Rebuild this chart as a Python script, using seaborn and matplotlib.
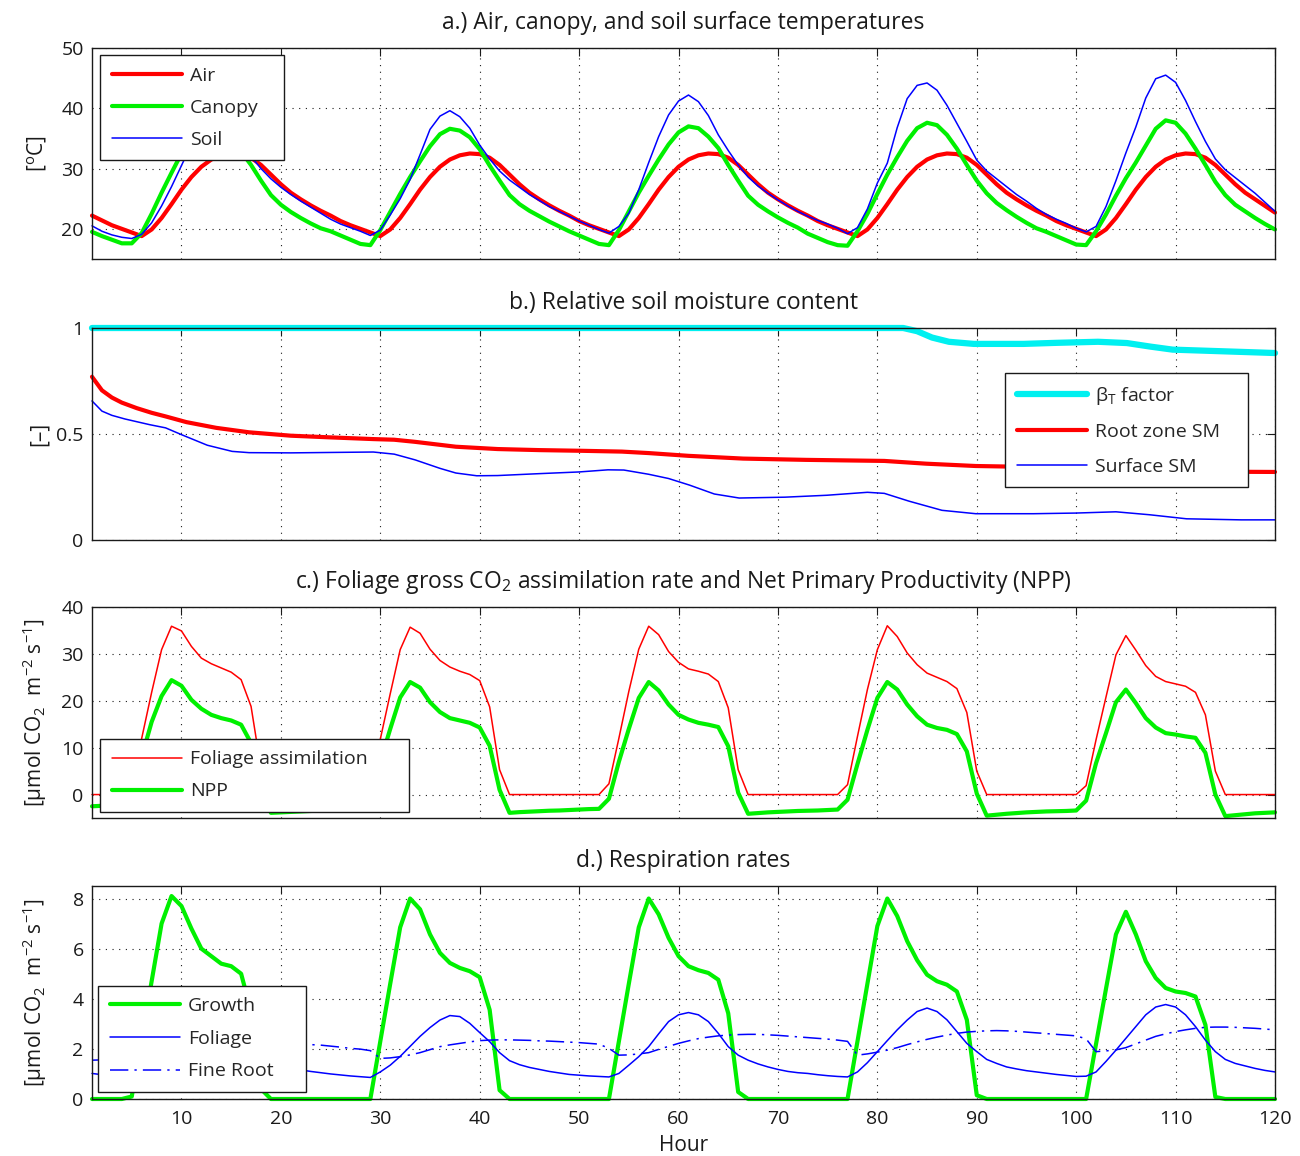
import matplotlib
matplotlib.use("Agg")
import matplotlib.pyplot as plt
import seaborn as sns
import pandas as pd

# ---------------- data ----------------
hours = list(range(1, 121))

air_temp = [
    22.2, 21.4, 20.6, 20.0, 19.4, 18.8, 19.9, 21.8, 24.1, 26.5, 28.6, 30.3, 31.5, 32.2, 32.5, 32.4, 31.8, 30.6, 29.0, 27.4, 26.0, 24.9, 23.9, 23.0,
    22.2, 21.3, 20.6, 20.0, 19.4, 18.8, 19.9, 21.8, 24.1, 26.5, 28.6, 30.3, 31.5, 32.2, 32.5, 32.4, 31.8, 30.6, 29.0, 27.4, 26.0, 24.9, 23.9, 23.0,
    22.2, 21.3, 20.6, 20.0, 19.4, 18.8, 19.9, 21.8, 24.1, 26.5, 28.6, 30.3, 31.5, 32.2, 32.5, 32.4, 31.8, 30.6, 29.0, 27.4, 26.0, 24.9, 23.9, 23.0,
    22.2, 21.3, 20.6, 20.0, 19.4, 18.8, 19.9, 21.8, 24.1, 26.5, 28.6, 30.3, 31.5, 32.2, 32.5, 32.4, 31.8, 30.6, 29.0, 27.4, 26.0, 24.9, 23.9, 23.0,
    22.2, 21.3, 20.6, 20.0, 19.4, 18.8, 19.9, 21.8, 24.1, 26.5, 28.6, 30.3, 31.5, 32.2, 32.5, 32.4, 31.8, 30.6, 29.0, 27.4, 26.0, 24.9, 23.8, 22.7,
]
canopy_temp = [
    19.5, 18.8, 18.2, 17.6, 17.6, 19.3, 22.5, 26.0, 29.3, 32.5, 34.8, 36.2, 36.6, 36.0, 34.8, 32.8, 30.6, 28.0, 25.6, 24.0, 22.8, 21.8, 20.9, 20.1,
    19.6, 18.9, 18.2, 17.5, 17.3, 19.8, 22.8, 25.8, 28.6, 31.2, 33.7, 35.7, 36.6, 36.3, 35.2, 33.2, 30.5, 28.0, 25.6, 24.1, 23.0, 22.1, 21.2, 20.4,
    19.6, 18.9, 18.2, 17.5, 17.3, 19.8, 22.9, 26.0, 28.8, 31.5, 34.0, 36.0, 37.0, 36.7, 35.3, 33.4, 30.6, 28.0, 25.5, 24.0, 22.9, 21.9, 21.0, 20.2,
    19.2, 18.5, 17.8, 17.3, 17.2, 19.6, 22.5, 25.8, 29.0, 31.9, 34.6, 36.7, 37.6, 37.2, 35.6, 33.3, 30.6, 28.0, 25.9, 24.3, 23.1, 22.0, 21.0, 20.1,
    19.5, 18.8, 18.1, 17.4, 17.3, 19.6, 22.4, 25.5, 28.4, 31.0, 33.8, 36.6, 38.0, 37.6, 35.8, 33.3, 30.6, 27.8, 25.6, 24.0, 22.9, 21.8, 20.8, 19.9,
]
soil_temp = [
    20.5, 19.6, 19.0, 18.6, 18.4, 19.1, 21.0, 23.8, 27.0, 30.5, 34.0, 36.5, 37.3, 36.6, 35.0, 33.6, 32.0, 30.0, 28.3, 26.9, 25.7, 24.6, 23.6, 22.6,
    21.6, 20.8, 20.2, 19.6, 18.9, 19.8, 22.3, 25.0, 28.2, 32.3, 36.5, 38.7, 39.6, 38.6, 36.7, 33.9, 31.6, 29.6, 28.1, 26.9, 25.7, 24.7, 23.7, 22.9,
    22.1, 21.3, 20.6, 19.9, 19.3, 20.4, 22.6, 26.5, 31.0, 35.3, 38.9, 41.2, 42.2, 41.1, 38.8, 35.6, 33.0, 30.6, 28.6, 27.1, 25.9, 24.8, 23.8, 22.9,
    22.1, 21.4, 20.8, 20.1, 19.2, 20.2, 23.3, 27.6, 30.9, 36.8, 41.6, 43.8, 44.2, 43.0, 40.5, 37.5, 34.5, 31.4, 29.6, 28.3, 27.0, 25.7, 24.6, 23.4,
    22.4, 21.6, 20.9, 20.1, 19.5, 20.4, 23.7, 28.0, 32.6, 36.9, 41.7, 44.9, 45.5, 44.3, 41.3, 37.8, 34.5, 31.6, 29.8, 28.5, 27.2, 25.9, 24.4, 22.9,
]

beta_hours = [1, 82.6, 84, 85.5, 87.2, 89.7, 94.7, 98, 102.2, 105.1, 107.5, 109.7, 115.5, 120]
beta_t = [1.0, 1.0, 0.985, 0.955, 0.935, 0.925, 0.925, 0.930, 0.935, 0.929, 0.912, 0.898, 0.889, 0.882]

root_hours = [1, 2, 3, 4, 5.5, 7, 8.4, 10.5, 13.5, 16.8, 21, 25, 29.3, 31.4, 33.5, 37.6, 41.8, 46, 50,
              54.3, 57, 61, 66.5, 72.8, 80.7, 84.9, 89.9, 95, 100, 104, 110, 115, 120]
root_sm = [0.770, 0.706, 0.672, 0.648, 0.622, 0.600, 0.583, 0.556, 0.529, 0.508, 0.492, 0.484, 0.476, 0.473,
           0.463, 0.440, 0.429, 0.424, 0.421, 0.417, 0.410, 0.397, 0.384, 0.378, 0.373, 0.360, 0.349, 0.345,
           0.343, 0.340, 0.327, 0.322, 0.321]

surf_hours = [1, 2, 3, 4.3, 6.8, 8.4, 10.1, 12.6, 15.1, 16.8, 21, 25.1, 29.3, 31.4, 33.5, 36, 37.6, 39.7, 41.8,
              46, 50, 52.9, 54.5, 57, 59, 61.1, 63.6, 66.1, 70.7, 74.9, 79, 80.7, 83.2, 86.5, 89.9, 95.7,
              99.9, 104, 107.4, 111.1, 116.6, 120]
surf_sm = [0.656, 0.608, 0.588, 0.571, 0.544, 0.529, 0.495, 0.447, 0.418, 0.412, 0.411, 0.413, 0.415, 0.405,
           0.378, 0.338, 0.316, 0.303, 0.304, 0.313, 0.321, 0.331, 0.330, 0.310, 0.290, 0.259, 0.217, 0.198,
           0.202, 0.211, 0.225, 0.220, 0.183, 0.140, 0.124, 0.124, 0.127, 0.133, 0.119, 0.100, 0.095, 0.095]

assimilation = [
    0, 0, 0, 0, 2.3, 12.0, 21.8, 30.9, 35.9, 34.9, 31.6, 29.1, 27.9, 27.0, 26.1, 24.5, 18.8, 5.5, 0, 0, 0, 0, 0, 0,
    0, 0, 0, 0, 2.3, 11.8, 21.5, 30.9, 35.7, 34.4, 31.0, 28.6, 27.2, 26.3, 25.6, 24.3, 18.7, 5.3, 0, 0, 0, 0, 0, 0,
    0, 0, 0, 0, 2.3, 12.0, 22.0, 31.0, 35.9, 34.1, 30.5, 28.2, 26.8, 26.3, 25.7, 24.1, 18.5, 5.3, 0, 0, 0, 0, 0, 0,
    0, 0, 0, 0, 2.1, 12.4, 22.4, 30.9, 36.0, 33.7, 30.2, 27.7, 25.9, 25.0, 24.1, 22.6, 17.5, 5.0, 0, 0, 0, 0, 0, 0,
    0, 0, 0, 0, 1.9, 11.7, 20.8, 29.8, 33.9, 30.8, 27.5, 25.2, 24.1, 23.6, 23.1, 21.8, 17.0, 5.0, 0, 0, 0, 0, 0, 0,
]
npp = [
    -2.5, -2.4, -2.3, -2.2, -0.6, 8.0, 15.5, 21.0, 24.4, 23.2, 20.2, 18.3, 17.0, 16.3, 15.8, 14.9, 11.0, 1.2, -3.9, -3.8, -3.7, -3.6, -3.5, -3.4,
    -3.3, -3.2, -3.1, -3.05, -0.9, 7.0, 14.0, 20.7, 24.0, 22.8, 19.7, 17.6, 16.3, 15.8, 15.3, 14.3, 10.4, 1.0, -3.9, -3.75, -3.65, -3.55, -3.45, -3.4,
    -3.3, -3.2, -3.1, -3.05, -0.9, 7.0, 14.0, 20.6, 24.0, 22.2, 19.2, 17.0, 16.0, 15.3, 14.9, 14.4, 10.3, 0.4, -4.1, -3.95, -3.8, -3.7, -3.6, -3.5,
    -3.45, -3.4, -3.3, -3.2, -1.1, 6.5, 13.8, 20.6, 24.0, 22.4, 19.2, 16.7, 14.9, 14.2, 13.8, 12.9, 9.2, 0.2, -4.5, -4.3, -4.1, -3.95, -3.8, -3.7,
    -3.6, -3.55, -3.5, -3.4, -1.3, 6.7, 13.1, 19.7, 22.4, 19.5, 16.3, 14.3, 13.1, 12.8, 12.4, 12.1, 8.9, 0.0, -4.6, -4.4, -4.2, -4.0, -3.9, -3.8,
]

growth_resp = [
    0, 0, 0, 0, 0.1, 2.4, 4.7, 7.0, 8.1, 7.7, 6.8, 6.0, 5.7, 5.4, 5.3, 5.0, 3.5, 0.4, 0, 0, 0, 0, 0, 0,
    0, 0, 0, 0, 0, 2.3, 4.6, 6.85, 8.0, 7.57, 6.57, 5.83, 5.43, 5.23, 5.1, 4.86, 3.56, 0.35, 0, 0, 0, 0, 0, 0,
    0, 0, 0, 0, 0, 2.3, 4.6, 6.85, 8.0, 7.37, 6.43, 5.7, 5.3, 5.14, 5.03, 4.76, 3.42, 0.28, 0, 0, 0, 0, 0, 0,
    0, 0, 0, 0, 0, 2.3, 4.6, 6.9, 8.0, 7.3, 6.3, 5.54, 4.96, 4.7, 4.56, 4.29, 3.16, 0.15, 0, 0, 0, 0, 0, 0,
    0, 0, 0, 0, 0, 2.2, 4.4, 6.57, 7.47, 6.57, 5.5, 4.83, 4.43, 4.29, 4.23, 4.09, 2.96, 0.08, 0, 0, 0, 0, 0, 0,
]
foliage_resp = [
    1.02, 0.97, 0.93, 0.90, 0.87, 1.05, 1.33, 1.68, 2.08, 2.48, 2.83, 3.13, 3.30, 3.27, 3.00, 2.63, 2.27, 1.84, 1.52, 1.36, 1.25, 1.16, 1.10, 1.05,
    1.00, 0.96, 0.92, 0.89, 0.86, 1.08, 1.35, 1.70, 2.10, 2.50, 2.85, 3.15, 3.33, 3.29, 3.02, 2.65, 2.29, 1.85, 1.53, 1.37, 1.26, 1.18, 1.10, 1.04,
    0.98, 0.95, 0.92, 0.90, 0.88, 1.02, 1.35, 1.69, 2.09, 2.60, 3.09, 3.36, 3.45, 3.36, 3.09, 2.62, 2.09, 1.75, 1.55, 1.40, 1.28, 1.18, 1.10, 1.05,
    1.02, 0.97, 0.93, 0.90, 0.88, 1.08, 1.45, 1.89, 2.33, 2.76, 3.15, 3.49, 3.63, 3.49, 3.16, 2.69, 2.22, 1.89, 1.58, 1.42, 1.28, 1.20, 1.13, 1.08,
    1.03, 0.98, 0.94, 0.90, 0.91, 1.08, 1.50, 1.95, 2.42, 2.89, 3.36, 3.67, 3.77, 3.67, 3.36, 2.89, 2.35, 1.89, 1.58, 1.42, 1.32, 1.22, 1.14, 1.08,
]
fineroot_resp = [
    1.55, 1.56, 1.58, 1.60, 1.63, 1.67, 1.72, 1.78, 1.85, 1.92, 1.99, 2.05, 2.10, 2.15, 2.19, 2.22, 2.24, 2.25, 2.24, 2.22, 2.21, 2.19, 2.17, 2.15,
    2.11, 2.07, 2.02, 1.99, 1.93, 1.62, 1.64, 1.69, 1.76, 1.85, 1.97, 2.09, 2.16, 2.22, 2.28, 2.33, 2.35, 2.36, 2.36, 2.35, 2.34, 2.32, 2.31, 2.29,
    2.27, 2.25, 2.22, 2.19, 2.02, 1.75, 1.76, 1.80, 1.85, 1.98, 2.10, 2.22, 2.32, 2.41, 2.47, 2.52, 2.55, 2.57, 2.58, 2.58, 2.56, 2.54, 2.51, 2.48,
    2.45, 2.42, 2.39, 2.35, 2.30, 1.75, 1.80, 1.87, 1.95, 2.05, 2.17, 2.28, 2.38, 2.47, 2.55, 2.62, 2.67, 2.70, 2.72, 2.73, 2.72, 2.70, 2.67, 2.64,
    2.61, 2.58, 2.55, 2.52, 2.40, 1.89, 1.92, 1.96, 2.05, 2.20, 2.35, 2.50, 2.60, 2.69, 2.76, 2.82, 2.86, 2.87, 2.87, 2.86, 2.84, 2.82, 2.79, 2.76,
]

x_ticks = [10, 20, 30, 40, 50, 60, 70, 80, 90, 100, 110, 120]

titles = [
    "a.) Air, canopy, and soil surface temperatures",
    "b.) Relative soil moisture content",
    "c.) Foliage gross CO$_2$ assimilation rate and Net Primary Productivity (NPP)",
    "d.) Respiration rates",
]
ylabels = ["[$^o$C]", "[\u2013]", "[\u03bcmol CO$_2$  m$^{-2}$ s$^{-1}$]", "[\u03bcmol CO$_2$  m$^{-2}$ s$^{-1}$]"]

# ---------------- style ----------------
sns.set_theme(style="white")
plt.rcParams["font.family"] = ["Open Sans", "DejaVu Sans"]
plt.rcParams["mathtext.default"] = "regular"
plt.rcParams["axes.unicode_minus"] = True

RED, GREEN, BLUE, CYAN = "#ff0000", "#00f000", "#0000ff", "#00f0f0"

fig = plt.figure(figsize=(13.0, 11.56), dpi=100)
W, H = 1300.0, 1156.0
AXW = 1183.0
boxes = [(48, 259), (328, 540), (607, 818), (886, 1099)]
axes = []
for top, bot in boxes:
    ax = fig.add_axes([92 / W, (H - bot) / H, AXW / W, (bot - top) / H])
    axes.append(ax)


def line(ax, x, y, color, lw, label, ls="-"):
    df = pd.DataFrame({"x": x, "y": y})
    sns.lineplot(data=df, x="x", y="y", ax=ax, color=color, linewidth=lw, label=label,
                 estimator=None, sort=False, linestyle=ls)
    ln = ax.get_lines()[-1]
    ln.set_clip_on(False)
    return ln


def style(ax, ylim, yticks, ytl=None):
    ax.set_xlim(1, 120)
    ax.set_ylim(*ylim)
    ax.set_xticks(x_ticks)
    ax.set_yticks(yticks)
    if ytl is not None:
        ax.set_yticklabels(ytl)
    ax.grid(True, color="k", linestyle=(0, (1, 5)), linewidth=0.8)
    ax.tick_params(direction="in", length=6, width=0.8, top=True, right=True,
                   labelsize=14, colors="k", pad=6)
    ax.tick_params(axis="x", pad=8)
    for s in ax.spines.values():
        s.set_visible(True)
        s.set_color("k")
        s.set_linewidth(1.0)
    ax.set_xlabel("")


def legend(ax, loc, left_px, width_px, ax_h, top_px=None, bottom_px=None, spacing=0.7):
    x0 = left_px / AXW
    w = width_px / AXW
    if top_px is not None:
        bbox = (x0, 0.0, w, 1 - top_px / ax_h)
    else:
        bbox = (x0, bottom_px / ax_h, w, 1 - bottom_px / ax_h)
    lg = ax.legend(loc=loc, bbox_to_anchor=bbox, mode="expand", borderaxespad=0, fontsize=14,
                   frameon=True, fancybox=False, framealpha=1, edgecolor="k",
                   handlelength=3.6, handletextpad=0.42, borderpad=0.6, labelspacing=spacing)
    lg.get_frame().set_linewidth(1.0)
    lg.set_zorder(10)
    return lg


# a.)
ax = axes[0]
line(ax, hours, air_temp, RED, 3.0, "Air")
line(ax, hours, canopy_temp, GREEN, 3.0, "Canopy")
line(ax, hours, soil_temp, BLUE, 1.1, "Soil")
style(ax, (15, 50), [20, 30, 40, 50])
legend(ax, "upper left", 8, 184, 211, top_px=7, spacing=0.72)

# b.)
ax = axes[1]
line(ax, beta_hours, beta_t, CYAN, 4.5, "\u03b2$_T$ factor")
line(ax, root_hours, root_sm, RED, 3.0, "Root zone SM")
line(ax, surf_hours, surf_sm, BLUE, 1.1, "Surface SM")
style(ax, (0, 1), [0, 0.5, 1], ["0", "0.5", "1"])
legend(ax, "upper left", 1005 - 92, 243, 212, top_px=373 - 328, spacing=0.85)

# c.)
ax = axes[2]
line(ax, hours, assimilation, RED, 1.1, "Foliage assimilation")
line(ax, hours, npp, GREEN, 3.0, "NPP")
style(ax, (-5, 40), [0, 10, 20, 30, 40])
legend(ax, "lower left", 8, 309, 211, bottom_px=6, spacing=0.72)

# d.)
ax = axes[3]
line(ax, hours, growth_resp, GREEN, 3.0, "Growth")
line(ax, hours, foliage_resp, BLUE, 1.1, "Foliage")
fr = line(ax, hours, fineroot_resp, BLUE, 1.1, "Fine Root")
fr.set_dashes([12, 4, 1.5, 4])
style(ax, (0, 8.5), [0, 2, 4, 6, 8])
legend(ax, "lower left", 6, 208, 213, bottom_px=7, spacing=0.75)

for i, ax in enumerate(axes):
    ax.set_title(titles[i], fontsize=16.5, pad=13.5, color="k")
    ax.set_ylabel(ylabels[i], fontsize=15, color="k")
    ax.yaxis.set_label_coords(-0.036, 0.5)
    if i < 3:
        ax.set_xticklabels([])

axes[3].set_xlabel("Hour", fontsize=15, color="k", labelpad=5)

fig.savefig("out.png", dpi=100, facecolor="white")
